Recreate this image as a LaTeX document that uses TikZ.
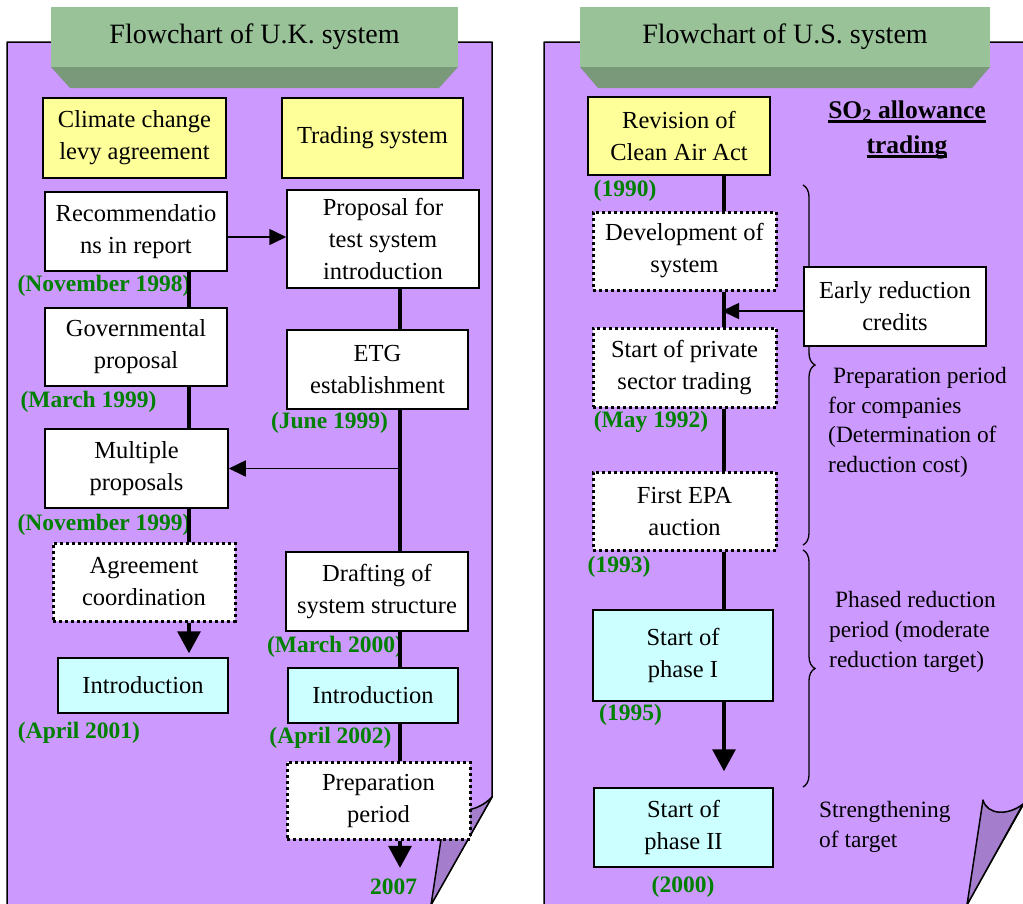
\documentclass[tikz,border=0pt]{standalone}
\usepackage{fontspec}
\setmainfont{Liberation Serif}
\usetikzlibrary{arrows.meta,decorations.pathreplacing}

\definecolor{pagepurple}{RGB}{204,153,255}
\definecolor{flappurple}{RGB}{165,125,205}
\definecolor{bannerface}{RGB}{153,194,153}
\definecolor{bannershade}{RGB}{122,152,122}
\definecolor{boxyellow}{RGB}{255,255,153}
\definecolor{boxcyan}{RGB}{204,255,255}
\definecolor{dategreen}{RGB}{0,128,0}

% heavy underline for the bold heading
\newsavebox\ulbox
\newcommand\heavyul[1]{\sbox\ulbox{#1}\rlap{\rule[-4.5pt]{\wd\ulbox}{2.6pt}}\usebox\ulbox}

\begin{document}
\begin{tikzpicture}[x=1pt,y=-1pt,
  sz/.style 2 args={minimum width=#1, minimum height=#2},
  basebox/.style={draw=black, line width=1.5pt, inner sep=2pt, align=center,
    font=\fontsize{24.5}{32}\selectfont},
  plainbox/.style={basebox, fill=white},
  yellowbox/.style={basebox, fill=boxyellow},
  cyanbox/.style={basebox, fill=boxcyan},
  dotbox/.style={basebox, fill=white, line width=3pt, dash pattern=on 3pt off 3pt},
  datelbl/.style={text=dategreen, inner sep=0pt, font=\fontsize{23.5}{28}\selectfont\bfseries},
  note/.style={align=left, anchor=west, inner sep=0pt},
  titlelbl/.style={inner sep=0pt, font=\fontsize{28}{32}\selectfont},
  vline/.style={line width=3.2pt},
  harrow/.style={line width=1.6pt, -{Triangle[length=17pt,width=16pt]}},
  downarrow/.style={line width=3.2pt, -{Triangle[length=22pt,width=23pt]}},
  bracket/.style={line width=1.3pt, decorate, decoration={brace, amplitude=12pt}},
]
\useasboundingbox (0,0) rectangle (1023,903);
\clip (0,0) rectangle (1023,903);

% ---------- sheets with turned-up corners ----------
\draw[fill=pagepurple, line width=1.5pt, line join=round]
  (7,915) -- (7,42) -- (492,42) -- (492,797) -- (425,915) -- cycle;
\draw[fill=flappurple, line width=1.5pt, line join=round]
  (447,800) .. controls (451,815) and (477,813) .. (492,797) -- (431,905) -- cycle;

\draw[fill=pagepurple, line width=1.5pt, line join=round]
  (544,915) -- (544,42) -- (1040,42) -- (1040,775) -- (961,915) -- cycle;
\draw[fill=flappurple, line width=1.5pt, line join=round]
  (983,800) .. controls (987,815) and (1008,816) .. (1023,804) -- (967,905) -- cycle;

% ---------- title banners ----------
\fill[bannershade] (51,67) -- (458,67) -- (439,88) -- (70,88) -- cycle;
\fill[bannerface] (51,7) rectangle (458,67);
\node[titlelbl] (uktitle) at (254.5,37) {Flowchart of U.K. system};

\fill[bannershade] (580,67) -- (990,67) -- (972,88) -- (598,88) -- cycle;
\fill[bannerface] (580,7) rectangle (990,67);
\node[titlelbl] (ustitle) at (785,37) {Flowchart of U.S. system};

% column positions of the timelines
\coordinate (lx) at (189,0);
\coordinate (rx) at (400,0);
\coordinate (ux) at (724,0);

% ---------- U.K. boxes ----------
\node[yellowbox, sz={183pt}{80pt}] (clim) at (134.5,138) {Climate change\\levy agreement};
\node[yellowbox, sz={181pt}{80pt}] (trad) at (372.5,138) {Trading system};
\node[plainbox, sz={182pt}{79pt}] (rec) at (136,231.5) {Recommendatio\\ns in report};
\node[plainbox, sz={192pt}{98pt}] (prop) at (383,239) {Proposal for\\test system\\introduction};
\node[plainbox, sz={182pt}{78pt}] (gov) at (136,347) {Governmental\\proposal};
\node[plainbox, sz={181pt}{79pt}] (etg) at (377.5,369.5) {ETG\\establishment};
\node[plainbox, sz={183pt}{79pt}] (mult) at (136.5,468.5) {Multiple\\proposals};
\node[dotbox, sz={182pt}{78pt}] (agr) at (144,582) {Agreement\\coordination};
\node[plainbox, sz={182pt}{79pt}] (draft) at (377,591.5) {Drafting of\\system structure};
\node[cyanbox, sz={170pt}{55pt}] (intro1) at (143,685.5) {Introduction};
\node[cyanbox, sz={170pt}{55pt}] (intro2) at (373,695.5) {Introduction};
\node[dotbox, sz={183pt}{77pt}] (prep) at (378.5,800.5) {Preparation\\period};

% ---------- U.K. dates ----------
\node[datelbl] (d1) at (104,286) {(November 1998)};
\node[datelbl] (d2) at (88.5,402) {(March 1999)};
\node[datelbl] (d3) at (329.5,423) {(June 1999)};
\node[datelbl] (d4) at (104,525) {(November 1999)};
\node[datelbl] (d5) at (335,647) {(March 2000)};
\node[datelbl] (d6) at (79,733) {(April 2001)};
\node[datelbl] (d7) at (330.5,738) {(April 2002)};
\node[datelbl] (d8) at (393.5,887) {2007};

% ---------- U.K. connectors ----------
\draw[vline] (rec.south -| lx) -- (gov.north -| lx);
\draw[vline] (gov.south -| lx) -- (mult.north -| lx);
\draw[vline] (mult.south -| lx) -- (agr.north -| lx);
\draw[downarrow, shorten >=4pt] (agr.south -| lx) -- (intro1.north -| lx);

\draw[vline] (prop.south -| rx) -- (etg.north -| rx);
\draw[vline] (etg.south -| rx) -- (draft.north -| rx);
\draw[vline] (draft.south -| rx) -- (intro2.north -| rx);
\draw[vline] (intro2.south -| rx) -- (prep.north -| rx);
\draw[downarrow, shorten >=11pt] (prep.south -| rx) -- (d8.north -| rx);

\draw[harrow] ([yshift=-5.5pt]rec.east) -- ([yshift=-5.5pt]rec.east -| prop.west);
\draw[harrow] (mult.east -| rx) -- (mult.east);

% ---------- U.S. side ----------
\draw[bracket] (803,185) -- (803,545);
\draw[bracket] (803,550) -- (803,787);

\node[yellowbox, sz={182pt}{78pt}] (rev) at (679,136) {Revision of\\Clean Air Act};
\node[dotbox, sz={183pt}{78pt}] (dev) at (684.5,251) {Development of\\system};
\node[plainbox, sz={182pt}{79pt}] (early) at (895,306.5) {Early reduction\\credits};
\node[dotbox, sz={183pt}{79pt}] (priv) at (684.5,367.5) {Start of private\\sector trading};
\node[dotbox, sz={183pt}{78pt}] (epa) at (684.5,511) {First EPA\\auction};
\node[cyanbox, sz={180pt}{91pt}] (ph1) at (683,655.5) {Start of\\phase I};
\node[cyanbox, sz={179pt}{79pt}] (ph2) at (683.5,827.5) {Start of\\phase II};

\node[datelbl] (u1) at (625,191) {(1990)};
\node[datelbl] (u2) at (651,422) {(May 1992)};
\node[datelbl] (u3) at (619,567) {(1993)};
\node[datelbl] (u4) at (630.5,715) {(1995)};
\node[datelbl] (u5) at (683,887) {(2000)};

\draw[vline] (rev.south -| ux) -- (dev.north -| ux);
\draw[vline] (dev.south -| ux) -- (priv.north -| ux);
\draw[vline] (priv.south -| ux) -- (epa.north -| ux);
\draw[vline] (epa.south -| ux) -- (ph1.north -| ux);
\draw[downarrow, shorten >=16pt] (ph1.south -| ux) -- (ph2.north -| ux);
\draw[harrow, shorten >=-2pt] ([yshift=-4.5pt]early.west) -- ([yshift=-4.5pt]early.west -| ux);

\node[inner sep=0pt, align=center, font=\fontsize{25.5}{35}\selectfont\bfseries] (so2)
  at (907,129.5) {\heavyul{SO\textsubscript{2} allowance}\\\heavyul{trading}};

\node[note, font=\fontsize{23.4}{29.7}\selectfont] (prepnote) at (828,422.5)
  {\hspace*{5pt}Preparation period\\for companies\\(Determination of\\reduction cost)};
\node[note, font=\fontsize{23.4}{30}\selectfont] (phasenote) at (829,632)
  {\hspace*{6pt}Phased reduction\\period (moderate\\reduction target)};
\node[note, font=\fontsize{23.4}{30}\selectfont] (strongnote) at (819,827)
  {Strengthening\\of target};
\end{tikzpicture}
\end{document}
